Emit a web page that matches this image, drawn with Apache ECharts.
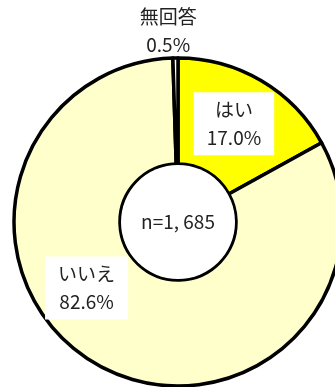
<!DOCTYPE html>
<html>
<head>
<meta charset="utf-8">
<script src="https://cdn.jsdelivr.net/npm/echarts@6/dist/echarts.min.js"></script>
<style>
  html, body { margin: 0; padding: 0; background: #fff; }
  #main { width: 335px; height: 387px; }
</style>
</head>
<body>
<div id="main"></div>
<script>
// answers in clockwise order from 12 o'clock
var categories = ['はい', 'いいえ', '無回答'];
var percents = [17.0, 82.6, 0.5];
var sliceColors = ['#FFFF00', '#FFFFCC', '#FFFFFF'];
var sampleText = 'n=1, 685';

// label nudges from the default inside position
var labelShift = [
  { dx: -2, dy: 0 },
  { dx: -35, dy: -33 },
  { dx: -8, dy: -77 }
];

var font = '"Noto Sans CJK JP", sans-serif';

var chart = echarts.init(document.getElementById('main'));

var pieData = categories.map(function (name, i) {
  var isOuter = i === 2;
  return {
    name: name,
    value: percents[i],
    itemStyle: { color: sliceColors[i] },
    label: {
      backgroundColor: isOuter ? 'transparent' : '#fff',
      padding: isOuter ? 0 : [4, 13, 3, 13]
    }
  };
});

chart.setOption({
  animation: false,
  series: [
    {
      type: 'pie',
      center: [178, 222],
      radius: [58, 164],
      startAngle: 90,
      clockwise: true,
      silent: true,
      itemStyle: {
        borderColor: '#000',
        borderWidth: 3.5
      },
      label: {
        show: true,
        position: 'inside',
        color: '#222',
        fontFamily: font,
        fontSize: 19,
        lineHeight: 28,
        formatter: function (p) {
          return p.name + '\n' + p.value.toFixed(1) + '%';
        }
      },
      labelLine: { show: false },
      labelLayout: function (p) {
        return labelShift[p.dataIndex];
      },
      data: pieData
    },
    {
      type: 'pie',
      center: [178, 222],
      radius: [0, 57],
      silent: true,
      itemStyle: { color: '#fff' },
      label: {
        show: true,
        position: 'center',
        color: '#222',
        fontFamily: font,
        fontSize: 19,
        formatter: sampleText
      },
      labelLine: { show: false },
      data: [{ name: 'n', value: 1 }]
    }
  ]
});
</script>
</body>
</html>
